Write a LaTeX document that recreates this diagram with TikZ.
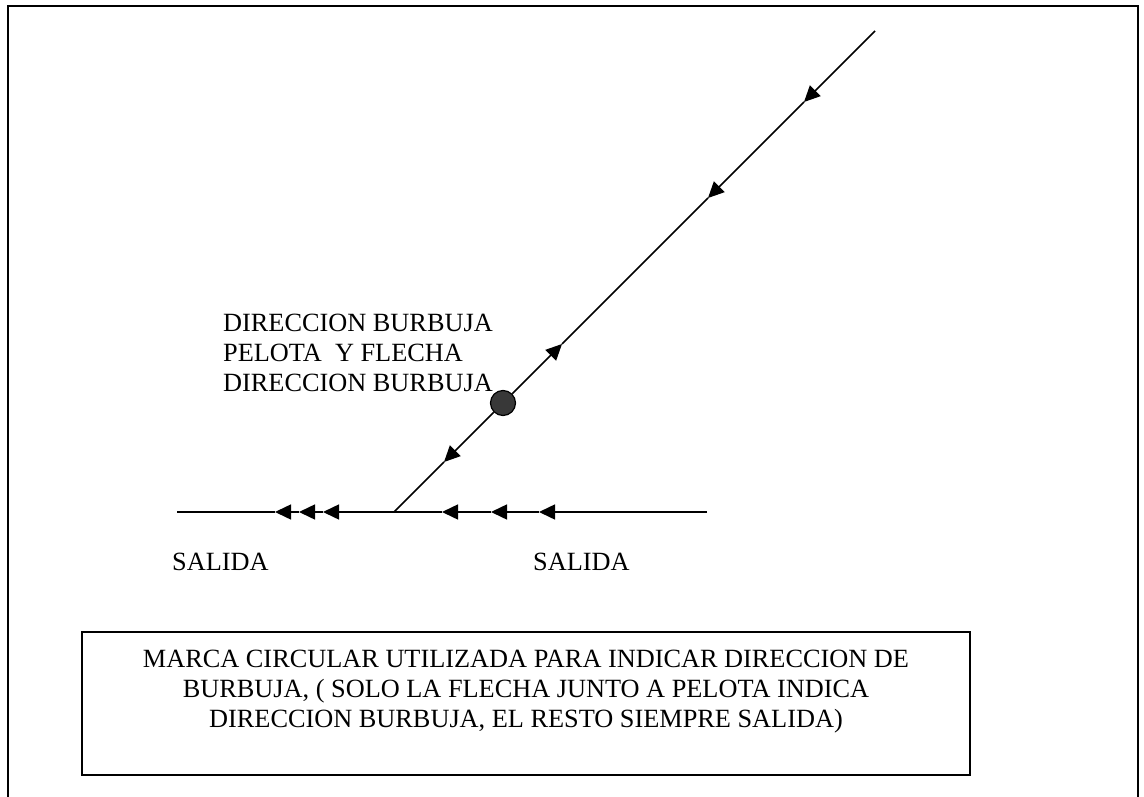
\documentclass[tikz,border=0pt]{standalone}
\usepackage{fontspec}
\setmainfont{Liberation Serif}
\usetikzlibrary{arrows.meta}
\begin{document}
\begin{tikzpicture}[x=1pt,y=-1pt,
  wire/.style={line width=1.5pt},
  tip/.style={wire,-{Triangle[length=16pt,width=15pt]}},
  lbl/.style={font=\fontsize{26.3}{30}\selectfont,inner sep=0pt},
  frame/.style={line width=2pt},
  notebox/.style={line width=1.6pt}]
\useasboundingbox (0,0) rectangle (1144,797);
% outer frame (bottom edge lies off the page)
\draw[frame] (8,797) -- (8,6) -- (1138,6) -- (1138,797);
% horizontal line
\coordinate (R) at (707,512);
\coordinate (h1) at (539,512);
\coordinate (h2) at (491,512);
\coordinate (h3) at (442,512);
\coordinate (J) at (394,512);
\coordinate (h4) at (323,512);
\coordinate (h5) at (299,512);
\coordinate (h6) at (275,512);
\coordinate (L) at (177,512);
\draw[tip] (R) -- (h1);
\draw[tip] (h1) -- (h2);
\draw[tip] (h2) -- (h3);
\draw[tip] (h3) -- (J) -- (h4);
\draw[tip] (h4) -- (h5);
\draw[tip] (h5) -- (h6);
\draw[wire] (h6) -- (L);
% diagonal line
\coordinate (T) at (875,31);
\coordinate (d1) at (804,102);
\coordinate (d2) at (708,198);
\coordinate (d3) at (562,344);
\coordinate (d4) at (444,462);
\node[circle,draw,line width=1.2pt,fill=black!78,minimum size=25pt,inner sep=0pt] (ball) at (503,403) {};
\draw[tip] (T) -- (d1);
\draw[tip] (d1) -- (d2);
\draw[wire] (d2) -- (d3);
\draw[tip] (ball) -- (d3);
\draw[tip] (ball) -- (d4);
\draw[wire] (d4) -- (J);
% labels
\node[lbl,anchor=base west] (t1) at (223,331) {DIRECCION BURBUJA};
\node[lbl,anchor=base west] (t2) at (223,361) {PELOTA\ \ Y FLECHA};
\node[lbl,anchor=base west] (t3) at (223,391) {DIRECCION BURBUJA};
\node[lbl,anchor=base west] (s1) at (172,570) {SALIDA};
\node[lbl,anchor=base west] (s2) at (533,570) {SALIDA};
% note box
\node[notebox,draw,minimum width=888pt,minimum height=143pt,inner sep=0pt] (box) at (526,703.5) {};
\node[lbl,anchor=base] (n1) at (526,667) {MARCA CIRCULAR UTILIZADA PARA INDICAR DIRECCION DE};
\node[lbl,anchor=base] (n2) at (526,697) {BURBUJA, ( SOLO LA FLECHA JUNTO A PELOTA INDICA};
\node[lbl,anchor=base] (n3) at (526,727) {DIRECCION BURBUJA, EL RESTO SIEMPRE SALIDA)};
\end{tikzpicture}
\end{document}
